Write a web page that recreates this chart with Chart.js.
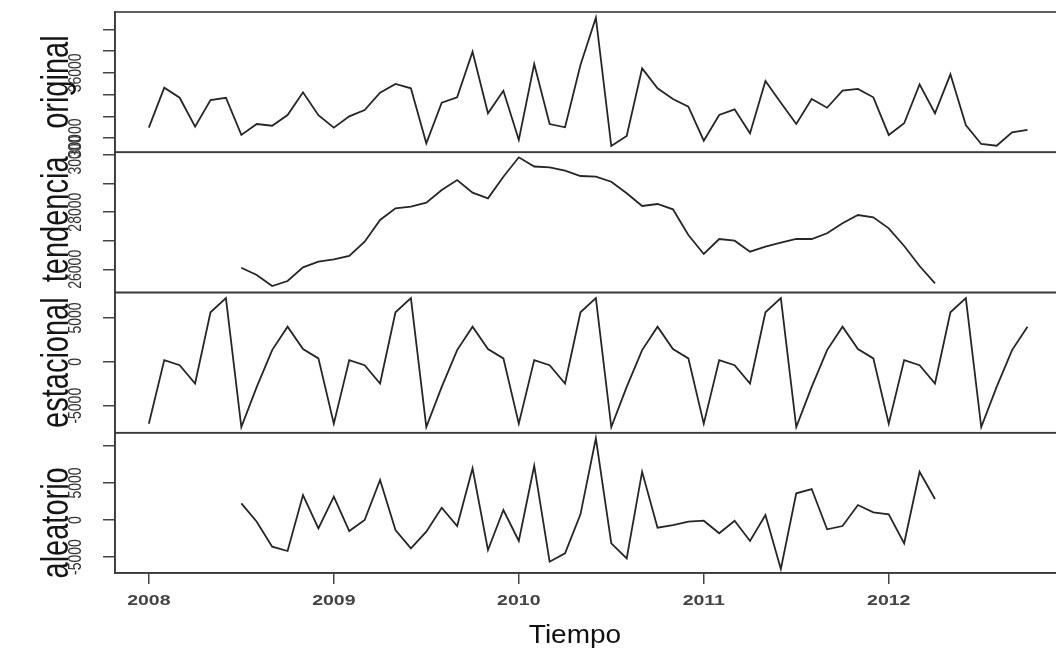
<!DOCTYPE html>
<html>
<head>
<meta charset="utf-8">
<title>Descomposición</title>
<script src="https://cdn.jsdelivr.net/npm/chart.js@4.4.0/dist/chart.umd.min.js"></script>
<style>
  html, body { margin: 0; padding: 0; background: #fff; overflow: hidden; }
  #wrap { width: 1056px; height: 656px; overflow: hidden; }
</style>
</head>
<body>
<div id="wrap"><canvas id="chart" width="1070" height="656"></canvas></div>
<script>
// Serie mensual, enero 2008 - octubre 2012
const startYear = 2008;
const yearTicks = [2008, 2009, 2010, 2011, 2012];

const original = [
    30950, 34640, 33710, 31040, 33500, 33710, 30280, 31290, 31130, 32120, 34210, 32100,
    30950, 32000, 32580, 34175, 34980, 34580, 29510, 33250, 33750, 37950, 32280, 34360,
    29820, 36820, 31290, 30990, 36730, 41090, 29260, 30180, 36420, 34580, 33590, 32885,
    29750, 32120, 32645, 30430, 35250, 33250, 31290, 33590, 32790, 34360, 34520, 33750,
    30280, 31355, 34950, 32280, 35870, 31200, 29450, 29290, 30525, 30740
];

const tendencia = [
    null, null, null, null, null, null,
    26056, 25800, 25415, 25590, 26070, 26266,
    26350, 26466, 26966, 27726, 28135, 28191, 28331, 28776, 29126, 28681, 28485, 29241,
    29920, 29598, 29570, 29451, 29266, 29241, 29066, 28660, 28216, 28286, 28100, 27200,
    26536, 27061, 27001, 26616, 26791, 26931, 27061, 27061, 27260, 27610, 27901, 27820,
    27435, 26816, 26116, 25510,
    null, null, null, null, null, null
];

const estacional = [
    -7050, 195, -380, -2470, 5650, 7255, -7440, -2860, 1340, 4005, 1455, 390,
    -7050, 195, -380, -2470, 5650, 7255, -7440, -2860, 1340, 4005, 1455, 390,
    -7050, 195, -380, -2470, 5650, 7255, -7440, -2860, 1340, 4005, 1455, 390,
    -7050, 195, -380, -2470, 5650, 7255, -7440, -2860, 1340, 4005, 1455, 390,
    -7050, 195, -380, -2470, 5650, 7255, -7440, -2860, 1340, 4005
];

const aleatorio = [
    null, null, null, null, null, null,
    2256, -230, -3607, -4188, 3378, -1121,
    3148, -1486, 0, 5404, -1351, -3823, -1581, 1662, -811, 6985, -4053, 1351,
    -2837, 7336, -5634, -4499, 770, 11038, -3148, -5174, 6525, -1040, -676, -230,
    -95, -1797, -95, -2837, 676, -6620, 3607, 4188, -1256, -811, 2027, 1040,
    770, -3148, 6525, 2837,
    null, null, null, null, null, null
];

const panelNames = ['original', 'tendencia', 'estacional', 'aleatorio'];
const panelSeries = [original, tendencia, estacional, aleatorio];
const panelTicks = [
    [30000, 32000, 34000, 36000, 38000, 40000],
    [26000, 27000, 28000, 29000, 30000],
    [-5000, 0, 5000],
    [-5000, 0, 5000, 10000]
];
const panelLabels = [
    [30000, 36000],
    [26000, 28000, 30000],
    [-5000, 0, 5000],
    [-5000, 0, 5000]
];
const panelRange = [
    [28687, 41613],
    [25188, 30097],
    [-8080, 7900],
    [-7160, 11790]
];
// desplazamiento vertical del nombre de cada panel (px)
const titleShift = [0, -3, 0, 20];

const FONT = '"Liberation Sans", Arial, sans-serif';

function toPoints(arr) {
    return arr.map((v, i) => ({ x: startYear + i / 12, y: v })).filter(p => p.y !== null);
}

function drawText(ctx, text, x, y, font, rot, sx, color) {
    ctx.save();
    ctx.translate(x, y);
    ctx.scale(sx, 1);
    ctx.rotate(rot);
    ctx.font = font;
    ctx.fillStyle = color;
    ctx.textAlign = 'center';
    ctx.textBaseline = 'middle';
    ctx.fillText(text, 0, 0);
    ctx.restore();
}

// marcos de los paneles y textos al estilo de R
const decoracion = {
    id: 'decoracion',
    afterDraw(chart) {
        const ctx = chart.ctx;
        const area = chart.chartArea;
        ctx.save();
        ctx.strokeStyle = '#3a3a3a';
        ctx.lineWidth = 1.6;
        panelNames.forEach((name, k) => {
            const s = chart.scales['y' + k];
            ctx.strokeRect(area.left, s.top, area.right - area.left, s.bottom - s.top);
            panelLabels[k].forEach(v => {
                drawText(ctx, String(v), 76, s.getPixelForValue(v), '14px ' + FONT, -Math.PI / 2, 1.3, '#333');
            });
            drawText(ctx, name, 57, (s.top + s.bottom) / 2 + titleShift[k], '29px ' + FONT, -Math.PI / 2, 1.33, '#151515');
        });
        const xs = chart.scales.x;
        yearTicks.forEach(yr => {
            drawText(ctx, String(yr), xs.getPixelForValue(yr), 601, 'bold 15px ' + FONT, 0, 1.3, '#444');
        });
        drawText(ctx, 'Tiempo', 575, 636, '25px ' + FONT, 0, 1.12, '#111');
        ctx.restore();
    }
};

const scales = {
    x: {
        type: 'linear',
        position: 'bottom',
        min: 2007.817,
        max: 2012.942,
        afterBuildTicks: scale => { scale.ticks = yearTicks.map(v => ({ value: v })); },
        afterFit: scale => { scale.height = 83; },
        ticks: { display: false },
        grid: { drawOnChartArea: false, tickLength: 11, color: '#444', lineWidth: 1.5 },
        border: { display: true, color: '#3a3a3a', width: 1.6 }
    }
};

// se añaden de abajo hacia arriba
for (let k = panelNames.length - 1; k >= 0; k--) {
    const ticks = panelTicks[k];
    scales['y' + k] = {
        type: 'linear',
        position: 'left',
        stack: 'paneles',
        stackWeight: 1,
        min: panelRange[k][0],
        max: panelRange[k][1],
        afterBuildTicks: scale => { scale.ticks = ticks.map(v => ({ value: v })); },
        afterFit: scale => { scale.width = 115; },
        ticks: { display: false },
        grid: { drawOnChartArea: false, tickLength: 12, color: '#444', lineWidth: 1.5 },
        border: { display: true, color: '#3a3a3a', width: 1.6 }
    };
}

const datasets = panelSeries.map((serie, k) => ({
    label: panelNames[k],
    data: toPoints(serie),
    yAxisID: 'y' + k,
    borderColor: '#262626',
    borderWidth: 1.8,
    pointRadius: 0,
    tension: 0,
    fill: false
}));

const ctx = document.getElementById('chart').getContext('2d');
const chart = new Chart(ctx, {
    type: 'line',
    data: { datasets: datasets },
    options: {
        responsive: false,
        animation: false,
        layout: { padding: { top: 12, right: 7, left: 0, bottom: 0 } },
        plugins: { legend: { display: false }, tooltip: { enabled: false } },
        scales: scales
    },
    plugins: [decoracion]
});
</script>
</body>
</html>
